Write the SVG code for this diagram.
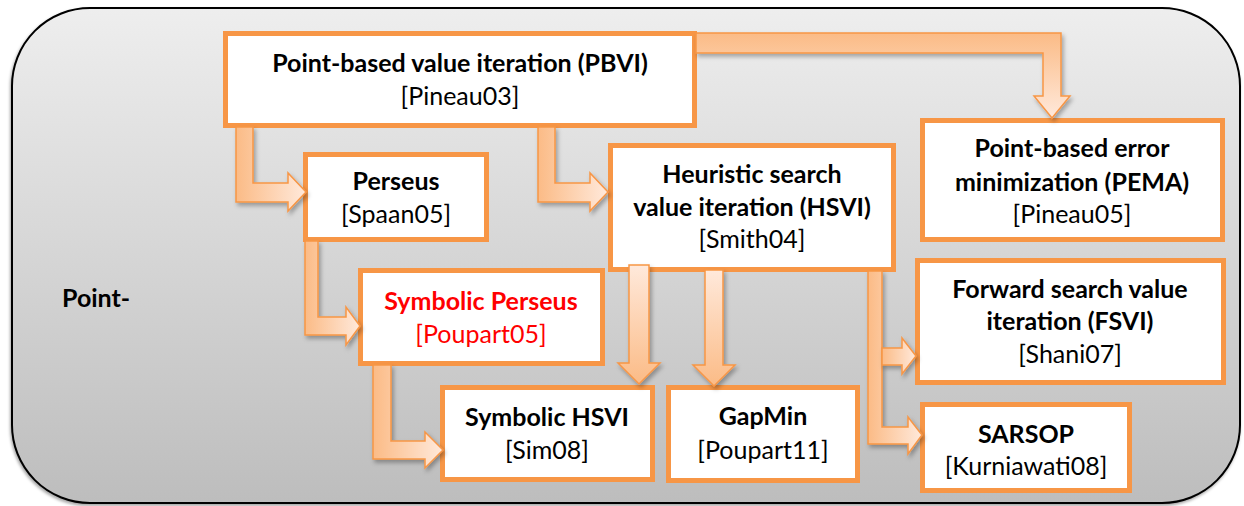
<svg xmlns="http://www.w3.org/2000/svg" width="1244" height="506" viewBox="0 0 1244 506">
  <defs>
    <linearGradient id="panelFill" x1="0" y1="0" x2="0" y2="1">
      <stop offset="0" stop-color="#EEEEEE"/>
      <stop offset="1" stop-color="#BDBDBD"/>
    </linearGradient>
    <linearGradient id="arrowRight" x1="0" y1="0" x2="1" y2="0">
      <stop offset="0" stop-color="#FBBB86"/>
      <stop offset="1" stop-color="#FFE9DB"/>
    </linearGradient>
    <linearGradient id="arrowDown" x1="0" y1="0" x2="0" y2="1">
      <stop offset="0" stop-color="#FFE9DB"/>
      <stop offset="1" stop-color="#FBBB86"/>
    </linearGradient>
    <linearGradient id="arrowTopDown" x1="0" y1="0" x2="0" y2="1">
      <stop offset="0" stop-color="#FBBB86"/>
      <stop offset="1" stop-color="#FFE9DB"/>
    </linearGradient>
    <filter id="panelShadow" x="-5%" y="-5%" width="110%" height="110%">
      <feDropShadow dx="-1" dy="2" stdDeviation="1.5" flood-color="#000" flood-opacity="0.35"/>
    </filter>
    <filter id="arrowShadow" x="-20%" y="-20%" width="140%" height="140%">
      <feDropShadow dx="2" dy="3" stdDeviation="2" flood-color="#000" flood-opacity="0.3"/>
    </filter>
  </defs>
  <style>
    .box { fill: #FFFFFF; stroke: #F79646; stroke-width: 5; }
    .arrow { stroke: #F79646; stroke-width: 1.5; stroke-linejoin: miter; filter: url(#arrowShadow); }
    text { font-family: Lato, "Noto Sans", sans-serif; font-size: 25px; text-anchor: middle; fill: #000000; }
    .b { font-weight: bold; }
    .red { fill: #FF0000; }
  </style>

  <!-- background panel -->
  <rect x="12" y="8" width="1228" height="495" rx="78" ry="78" fill="url(#panelFill)" stroke="#000000" stroke-width="2" filter="url(#panelShadow)"/>
  <text class="b" x="62" y="307" style="text-anchor:start">Point-</text>

  <!-- nodes -->
  <g id="pbvi">
    <rect class="box" x="225.5" y="33.5" width="469" height="92"/>
    <text class="b" x="460" y="72">Point-based value iteration (PBVI)</text>
    <text x="460" y="105">[Pineau03]</text>
  </g>
  <g id="perseus">
    <rect class="box" x="305.5" y="154.5" width="181" height="85"/>
    <text class="b" x="396" y="190">Perseus</text>
    <text x="396" y="223">[Spaan05]</text>
  </g>
  <g id="hsvi">
    <rect class="box" x="610.5" y="145.5" width="283" height="124"/>
    <text class="b" x="752" y="183">Heuristic search</text>
    <text class="b" x="752" y="216">value iteration (HSVI)</text>
    <text x="752" y="248">[Smith04]</text>
  </g>
  <g id="pema">
    <rect class="box" x="922.5" y="120.5" width="300" height="119"/>
    <text class="b" x="1072" y="157">Point-based error</text>
    <text class="b" x="1072" y="191">minimization (PEMA)</text>
    <text x="1072" y="223">[Pineau05]</text>
  </g>
  <g id="symbolic-perseus">
    <rect class="box" x="360.5" y="270.5" width="242" height="93"/>
    <text class="b red" x="481" y="310">Symbolic Perseus</text>
    <text class="red" x="481" y="343">[Poupart05]</text>
  </g>
  <g id="fsvi">
    <rect class="box" x="917.5" y="260.5" width="306" height="122"/>
    <text class="b" x="1070" y="298">Forward search value</text>
    <text class="b" x="1070" y="330">iteration (FSVI)</text>
    <text x="1070" y="363">[Shani07]</text>
  </g>
  <g id="symbolic-hsvi">
    <rect class="box" x="442.5" y="387.5" width="210" height="92"/>
    <text class="b" x="547" y="426">Symbolic HSVI</text>
    <text x="547" y="459">[Sim08]</text>
  </g>
  <g id="gapmin">
    <rect class="box" x="668.5" y="387.5" width="189" height="93"/>
    <text class="b" x="763" y="425">GapMin</text>
    <text x="763" y="459">[Poupart11]</text>
  </g>
  <g id="sarsop">
    <rect class="box" x="922.5" y="404.5" width="207" height="86"/>
    <text class="b" x="1026" y="443">SARSOP</text>
    <text x="1026" y="475">[Kurniawati08]</text>
  </g>

  <!-- connectors: block arrows -->
  <g id="connectors">
    <path class="arrow" fill="url(#arrowRight)" d="M236,127 V202 H288 V211 L306,192 L288,173 V183 H253 V127 Z"/>
    <path class="arrow" fill="url(#arrowRight)" d="M538,127 V202 H590 V211 L608,192 L590,173 V183 H555 V127 Z"/>
    <path class="arrow" fill="url(#arrowTopDown)" d="M696,33 H1061 V96 H1070 L1052,118 L1034,96 H1043 V53 H696 Z"/>
    <path class="arrow" fill="url(#arrowRight)" d="M305,241 V335 H346 V345 L360,326 L346,307 V317 H318 V241 Z"/>
    <path class="arrow" fill="url(#arrowRight)" d="M373,365 V459 H425 V468 L443,450 L425,432 V441 H391 V365 Z"/>
    <path class="arrow" fill="url(#arrowDown)" d="M629,265 V363 H618 L639,384 L660,363 H649 V265 Z"/>
    <path class="arrow" fill="url(#arrowDown)" d="M705,270 V365 H693 L714,386 L735,365 H723 V270 Z"/>
    <path class="arrow" fill="url(#arrowRight)" d="M868,271 V444 H908 V454 L922,435 L908,417 V427 H882 V271 Z"/>
    <path class="arrow" fill="url(#arrowRight)" d="M882,348 H902 V338 L916,356 L902,374 V365 H882 Z"/>
  </g>
</svg>
